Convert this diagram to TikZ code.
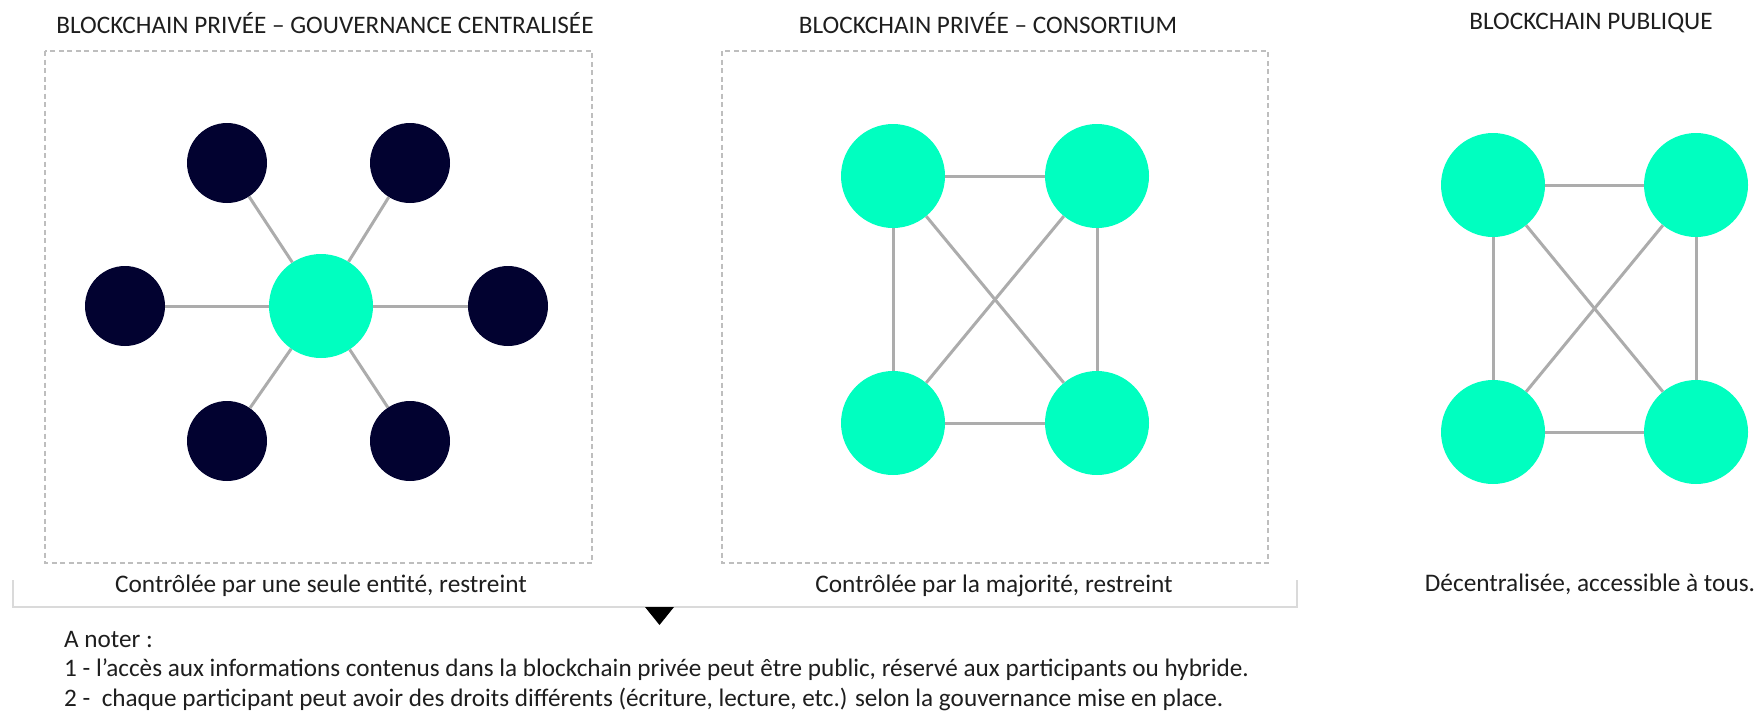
\documentclass[tikz,border=0pt]{standalone}
\usepackage{fontspec}
\setmainfont{Carlito}
\definecolor{teal}{RGB}{0,255,192}
\definecolor{navy}{RGB}{2,2,48}
\definecolor{edgegray}{RGB}{172,172,172}
\definecolor{boxgray}{RGB}{190,190,190}
\definecolor{calloutgray}{RGB}{218,218,218}
\definecolor{txt}{RGB}{30,30,30}
\begin{document}
\begin{tikzpicture}[x=1pt,y=-1pt,
  big/.style={circle,fill=teal,minimum size=104pt,inner sep=0pt},
  small/.style={circle,fill=navy,minimum size=80pt,inner sep=0pt},
  link/.style={draw=edgegray,line width=3pt},
  frame/.style={draw=boxgray,line width=1.3pt,dash pattern=on 5pt off 3.5pt},
  title/.style={font=\fontsize{25.2}{30}\selectfont,text=txt,inner sep=0pt},
  caption/.style={font=\fontsize{25.3}{30}\selectfont,text=txt,inner sep=0pt},
  note/.style={font=\fontsize{25.2}{30}\selectfont,text=txt,inner sep=0pt,anchor=west}]
\useasboundingbox (0,0) rectangle (1760,710);
% callout
\draw[calloutgray,line width=2pt,fill=white] (13,580) -- (13,607) -- (1297,607) -- (1297,580);
\fill[black] (645,607) -- (674,607) -- (659.5,625) -- cycle;
% frames
\draw[frame] (45,51) rectangle (592,563);
\draw[frame] (722,51) rectangle (1268,563);
% titles
\node[title] (t1) at (325,23) {BLOCKCHAIN PRIVÉE – GOUVERNANCE CENTRALISÉE};
\node[title] (t2) at (988,23) {BLOCKCHAIN PRIVÉE – CONSORTIUM};
\node[title] (t3) at (1591,23) {BLOCKCHAIN PUBLIQUE};
% panel 1
\node[big] (c) at (321,306) {};
\node[small] (n1) at (227,163) {};
\node[small] (n2) at (410,163) {};
\node[small] (n3) at (125,306) {};
\node[small] (n4) at (508,306) {};
\node[small] (n5) at (227,441) {};
\node[small] (n6) at (410,441) {};
\foreach \n in {n1,n2,n3,n4,n5,n6} \draw[link] (c) -- (\n);
% panel 2
\node[big] (a1) at (893,176) {};
\node[big] (a2) at (1097,176) {};
\node[big] (a3) at (893,423) {};
\node[big] (a4) at (1097,423) {};
\draw[link] (a1) -- (a2); \draw[link] (a3) -- (a4);
\draw[link] (a1) -- (a3); \draw[link] (a2) -- (a4);
\draw[link] (a1) -- (a4); \draw[link] (a2) -- (a3);
% panel 3
\node[big] (b1) at (1493,185) {};
\node[big] (b2) at (1696,185) {};
\node[big] (b3) at (1493,432) {};
\node[big] (b4) at (1696,432) {};
\draw[link] (b1) -- (b2); \draw[link] (b3) -- (b4);
\draw[link] (b1) -- (b3); \draw[link] (b2) -- (b4);
\draw[link] (b1) -- (b4); \draw[link] (b2) -- (b3);
% captions
\node[caption] (k1) at (321,586) {Contrôlée par une seule entité, restreint};
\node[caption] (k2) at (994,586) {Contrôlée par la majorité, restreint};
\node[caption] (k3) at (1590,584) {Décentralisée, accessible à tous.};
% notes
\node[note] (m0) at (64,640) {A noter :};
\node[note] (m1) at (64,670) {1 - l’accès aux informations contenus dans la blockchain privée peut être public, réservé aux participants ou hybride.};
\node[note] (m2) at (64,699) {2 -\ \ chaque participant peut avoir des droits différents (écriture, lecture, etc.) selon la gouvernance mise en place.};
\end{tikzpicture}
\end{document}
